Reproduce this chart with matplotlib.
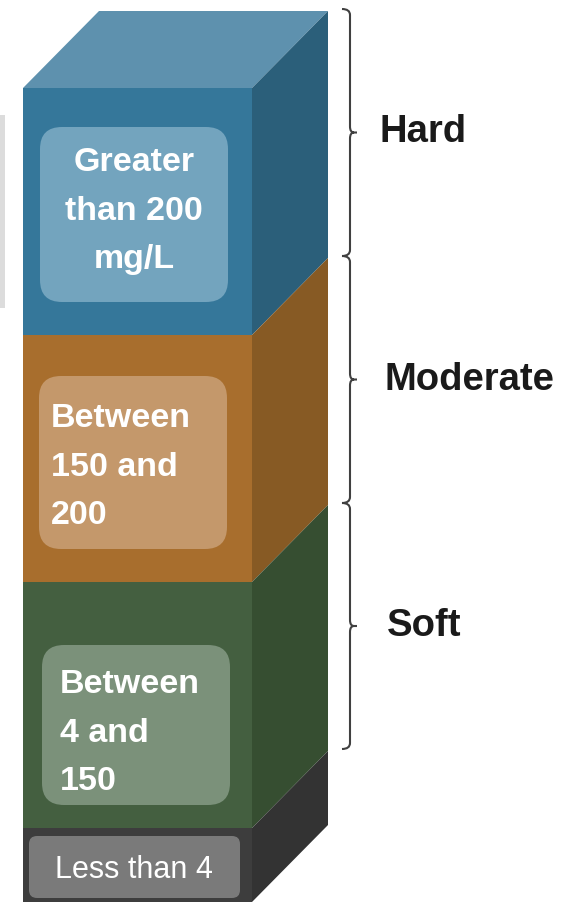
import matplotlib.pyplot as plt
from matplotlib.patches import Polygon, FancyBboxPatch, PathPatch
from matplotlib.path import Path

# Water hardness layers, top to bottom
levels = ["Hard", "Moderate", "Soft", ""]
ranges = ["Greater\nthan 200\nmg/L", "Between\n150 and\n200", "Between\n4 and\n150", "Less than 4"]
thickness = [247, 247, 246, 74]

front_colors = ["#35779a", "#a86e2d", "#445f40", "#3d3d3d"]
side_colors = ["#2b5f7a", "#875a24", "#364e31", "#333333"]
inner_colors = ["#73a4be", "#c4986b", "#7b917a", "#7a7a7a"]
top_color = "#5e91ae"

W, H = 569, 902
fig = plt.figure(figsize=(W / 100, H / 100), dpi=100)
ax = fig.add_axes([0, 0, 1, 1])
ax.set_xlim(0, W)
ax.set_ylim(H, 0)
ax.axis("off")

font = ["Liberation Sans", "DejaVu Sans"]

x0, x1 = 23, 252      # front face
dx, dy = 76, 77       # depth offset
y = 88

# top face
ax.add_patch(Polygon([(x0, y), (x1, y), (x1 + dx, y - dy), (x0 + dx, y - dy)],
                     closed=True, color=top_color, lw=0))

# gray strip at left edge
ax.add_patch(plt.Rectangle((0, 115), 5, 193, color="#dcdcdc", lw=0))

# inner box placement per layer (offset from layer top, x, height) and text spot
box_top = [39, 41, 63]
box_x = [40, 39, 42]
box_h = [175, 173, 160]
text_x = [134, 51, 60]
text_mid = [123, 132, 151]
label_x = [380, 385, 387]

for i, t in enumerate(thickness):
    ya, yb = y, y + t
    ax.add_patch(plt.Rectangle((x0, ya), x1 - x0, t, color=front_colors[i], lw=0))
    ax.add_patch(Polygon([(x1, ya), (x1 + dx, ya - dy), (x1 + dx, yb - dy), (x1, yb)],
                         closed=True, color=side_colors[i], lw=0))

    if i < 3:
        r = 22
        bx, bw, bh = box_x[i], 188, box_h[i]
        ax.add_patch(FancyBboxPatch((bx + r, ya + box_top[i] + r), bw - 2 * r, bh - 2 * r,
                                    boxstyle=f"round,pad={r}", color=inner_colors[i], lw=0))
        ax.text(text_x[i], ya + text_mid[i], ranges[i],
                ha="center" if i == 0 else "left", va="center",
                multialignment="center" if i == 0 else "left",
                color="white", fontsize=24.5, fontweight="bold", family=font,
                linespacing=1.74)

        # curly bracket on the right
        bt, bb = ya - dy - 2, yb - dy - 2
        mid = (bt + bb) / 2
        bx0 = 342
        verts = [(bx0, bt), (bx0 + 8, bt), (bx0 + 8, bt + 6), (bx0 + 8, mid - 6),
                 (bx0 + 8, mid), (bx0 + 12, mid), (bx0 + 15, mid),
                 (bx0 + 12, mid), (bx0 + 8, mid), (bx0 + 8, mid + 6),
                 (bx0 + 8, bb - 6), (bx0 + 8, bb), (bx0, bb)]
        codes = [Path.MOVETO, Path.CURVE3, Path.CURVE3, Path.LINETO,
                 Path.CURVE3, Path.CURVE3, Path.LINETO,
                 Path.MOVETO, Path.CURVE3, Path.CURVE3,
                 Path.LINETO, Path.CURVE3, Path.CURVE3]
        ax.add_patch(PathPatch(Path(verts, codes), fill=False, ec="#404040", lw=1.5))
        ax.text(label_x[i], mid, levels[i], ha="left", va="center",
                color="#1a1a1a", fontsize=27.5, fontweight="bold", family=font)
    else:
        r = 8
        ax.add_patch(FancyBboxPatch((29 + r, ya + 8 + r), 211 - 2 * r, 62 - 2 * r,
                                    boxstyle=f"round,pad={r}", color=inner_colors[i], lw=0))
        ax.text(134, ya + 42, ranges[i], ha="center", va="center",
                color="white", fontsize=22, family=font)
    y = yb

fig.savefig("out.png", dpi=100)
